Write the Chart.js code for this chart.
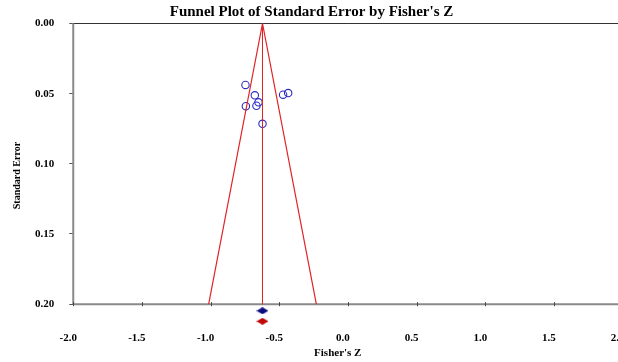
<!DOCTYPE html>
<html>
<head>
<meta charset="utf-8">
<script src="https://cdn.jsdelivr.net/npm/chart.js@4.4.0/dist/chart.umd.min.js"></script>
<style>
  html, body { margin: 0; padding: 0; background: #fff; overflow: hidden; width: 618px; height: 362px; }
  canvas { display: block; }
</style>
</head>
<body>
<canvas id="funnel" width="623" height="362"></canvas>
<script>
// study points (Fisher's Z, standard error)
const studyZ = [-0.746, -0.678, -0.651, -0.666, -0.743, -0.472, -0.435, -0.622];
const studySE = [0.0438, 0.0512, 0.0562, 0.0586, 0.0589, 0.0507, 0.0496, 0.0715];

// funnel (95% limits) and summary line
const funnelZ = [-1.014, -0.622, -0.230];
const funnelSE = [0.20, 0.00, 0.20];
const centerZ = [-0.622, -0.622];
const centerSE = [0.00, 0.20];

// summary diamonds under the axis (observed, imputed)
const diamondZ = [-0.622, -0.622];
const diamondSE = [0.2047, 0.2122];

const xTicks = [-2.0, -1.5, -1.0, -0.5, 0.0, 0.5, 1.0, 1.5, 2.0];
const yTicks = [0.00, 0.05, 0.10, 0.15, 0.20];

const serif = "'Liberation Serif', 'Times New Roman', serif";

function toPoints(xs, ys) {
  return xs.map((x, i) => ({ x: x, y: ys[i] }));
}

// flat diamond marker
function diamond(color) {
  const c = document.createElement('canvas');
  c.width = 12; c.height = 7;
  const g = c.getContext('2d');
  g.fillStyle = color;
  g.beginPath();
  g.moveTo(0, 3.5); g.lineTo(6, 0); g.lineTo(12, 3.5); g.lineTo(6, 7);
  g.closePath();
  g.fill();
  return c;
}

// plot frame: top line, left axis and the axis at SE = 0.20 (diamonds sit below it)
const frame = {
  id: 'frame',
  beforeDatasetsDraw(chart) {
    const { ctx, scales: { x, y } } = chart;
    const x0 = x.getPixelForValue(xTicks[0]);
    const x1 = x.getPixelForValue(xTicks[xTicks.length - 1]);
    const yTop = y.getPixelForValue(yTicks[0]);
    const yBot = y.getPixelForValue(yTicks[yTicks.length - 1]);
    const line = (ax, ay, bx, by) => { ctx.beginPath(); ctx.moveTo(ax, ay); ctx.lineTo(bx, by); ctx.stroke(); };
    ctx.save();
    ctx.strokeStyle = '#333';
    ctx.lineWidth = 1;
    line(x0, yTop, x1, yTop);
    ctx.strokeStyle = '#8a8a8a';
    ctx.lineWidth = 2;
    line(x0, yTop, x0, yBot);
    line(x0, yBot, x1, yBot);
    ctx.strokeStyle = '#444';
    ctx.lineWidth = 1;
    xTicks.forEach((v) => {
      const px = Math.round(x.getPixelForValue(v)) + 0.5;
      line(px, yBot - 2, px, yBot + 2);
    });
    ctx.restore();
  }
};

const ctx = document.getElementById('funnel');
const chart = new Chart(ctx, {
  type: 'scatter',
  data: {
    datasets: [
      {
        label: 'funnel',
        data: toPoints(funnelZ, funnelSE),
        showLine: true,
        borderColor: '#e02424',
        borderWidth: 1.2,
        pointRadius: 0
      },
      {
        label: 'center',
        data: toPoints(centerZ, centerSE),
        showLine: true,
        borderColor: '#e02424',
        borderWidth: 1,
        pointRadius: 0
      },
      {
        label: 'studies',
        data: toPoints(studyZ, studySE),
        pointStyle: 'circle',
        pointRadius: 3.7,
        borderColor: '#2b2bc0',
        backgroundColor: 'rgba(0,0,0,0)',
        borderWidth: 1.1
      },
      {
        label: 'observed',
        data: [{ x: diamondZ[0], y: diamondSE[0] }],
        pointStyle: diamond('#0c0c80'),
        pointRadius: 6
      },
      {
        label: 'imputed',
        data: [{ x: diamondZ[1], y: diamondSE[1] }],
        pointStyle: diamond('#c00808'),
        pointRadius: 6
      }
    ]
  },
  options: {
    responsive: false,
    animation: false,
    layout: { padding: 0 },
    plugins: {
      legend: { display: false },
      tooltip: { enabled: false },
      title: {
        display: true,
        text: "Funnel Plot of Standard Error by Fisher's Z",
        color: '#000',
        font: { family: serif, size: 15, weight: 'bold' },
        padding: { top: 3, bottom: 2.5 }
      }
    },
    scales: {
      x: {
        type: 'linear',
        position: 'bottom',
        min: -2,
        max: 1.952,
        afterBuildTicks: (axis) => { axis.ticks = xTicks.map(v => ({ value: v })); },
        afterFit: (axis) => { axis.paddingLeft = 0; axis.paddingRight = 0; },
        ticks: {
          autoSkip: false,
          maxRotation: 0,
          color: '#000',
          padding: 4,
          labelOffset: -5,
          font: { family: serif, size: 11, weight: 'bold' },
          callback: (v) => Number(v).toFixed(1)
        },
        grid: { display: false, drawTicks: false },
        border: { display: false },
        title: {
          display: true,
          text: "Fisher's Z     ",
          color: '#000',
          font: { family: serif, size: 11, weight: 'bold' },
          padding: { top: -2, bottom: 2 }
        }
      },
      y: {
        type: 'linear',
        reverse: true,
        min: 0,
        max: 0.2167,
        afterBuildTicks: (axis) => { axis.ticks = yTicks.map(v => ({ value: v })); },
        ticks: {
          color: '#000',
          padding: 15,
          font: { family: serif, size: 11, weight: 'bold' },
          callback: (v) => Number(v).toFixed(2)
        },
        grid: { drawOnChartArea: false, drawTicks: true, tickLength: 4, color: '#555' },
        border: { display: false },
        title: {
          display: true,
          text: 'Standard Error',
          color: '#000',
          font: { family: serif, size: 10, weight: 'bold' },
          padding: { top: 11, bottom: -3 }
        }
      }
    }
  },
  plugins: [frame]
});
</script>
</body>
</html>
